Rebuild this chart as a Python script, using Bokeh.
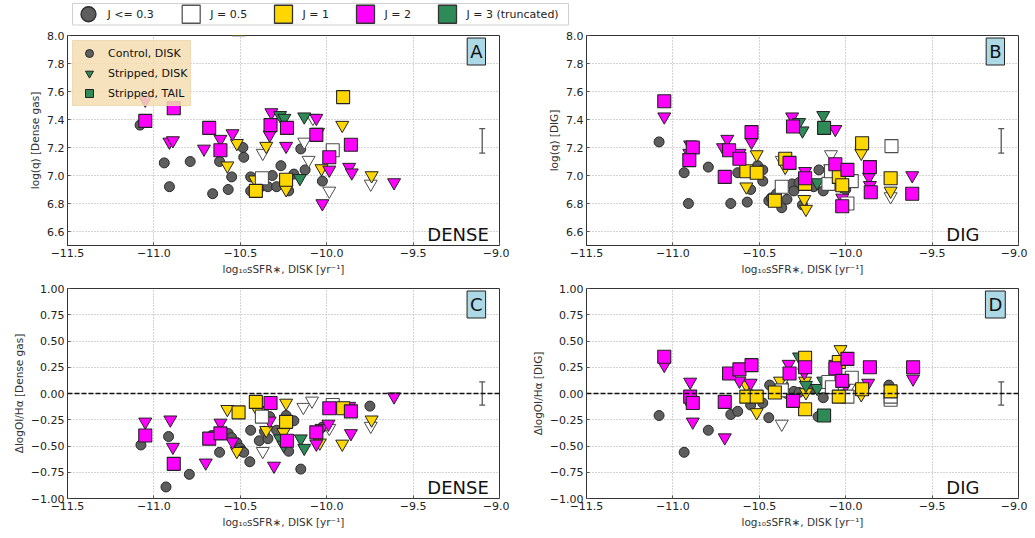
from bokeh.plotting import figure
from bokeh.models import (Range1d, Label, Span, Whisker, TeeHead, ColumnDataSource,
                          Legend, LegendItem)
from bokeh.layouts import column, row
from bokeh.embed import file_html
from bokeh.resources import INLINE
from bokeh.core.properties import value

# ---------------- data ----------------
# J categories: 0.5 white, 1 gold, 2 magenta, 3 green (truncated)

# Panel A : log(q) dense gas
A_ctrl_x = [-11.08, -10.94, -10.91, -10.79, -10.66, -10.62, -10.57, -10.55, -10.485, -10.48, -10.44, -10.44,
            -10.40, -10.39, -10.36, -10.34, -10.315, -10.29, -10.265, -10.22, -10.19, -10.15, -10.125, -10.025]
A_ctrl_y = [7.36, 7.09, 6.92, 7.10, 6.87, 7.10, 6.90, 6.99, 7.20, 7.13, 6.99, 6.89,
            6.97, 6.91, 6.93, 6.92, 7.00, 6.92, 7.07, 6.89, 7.01, 7.19, 7.04, 6.96]
A_tri_x = [-10.37, -10.13, -10.105, -10.08, -9.985, -9.745,
           -10.52, -10.575, -10.35, -10.415, -10.235, -10.05, -10.03, -9.91, -9.74,
           -11.05, -10.91, -10.89, -10.71, -10.615, -10.545, -10.32, -10.33, -10.235, -10.06, -9.985, -10.025,
           -9.87, -9.855, -9.61,
           -10.27, -10.245, -10.13, -10.155]
A_tri_y = [7.16, 7.24, 7.11, 7.41, 6.89, 6.94,
           7.23, 7.07, 7.21, 6.97, 6.90, 7.31, 7.05, 7.36, 7.00,
           7.54, 7.24, 7.25, 7.19, 7.26, 7.30, 7.45, 7.29, 7.21, 7.41, 7.04, 6.80, 7.06, 7.02, 6.95,
           7.43, 7.41, 7.42, 6.98]
A_tri_J = [0.5, 0.5, 0.5, 0.5, 0.5, 0.5,
           1, 1, 1, 1, 1, 1, 1, 1, 1,
           2, 2, 2, 2, 2, 2, 2, 2, 2, 2, 2, 2, 2, 2, 2,
           3, 3, 3, 3]
A_sq_x = [-10.375, -9.965,
          -10.41, -10.235, -9.905, -10.51,
          -11.05, -10.885, -10.68, -10.615, -10.325, -10.23, -10.06, -9.985, -9.86]
A_sq_y = [6.98, 7.18,
          6.89, 6.97, 7.56, 8.045,
          7.39, 7.48, 7.34, 7.18, 7.36, 7.34, 7.29, 7.13, 7.22]
A_sq_J = [0.5, 0.5, 1, 1, 1, 1, 2, 2, 2, 2, 2, 2, 2, 2, 2]

# Panel B : log(q) DIG
B_ctrl_x = [-11.08, -10.935, -10.91, -10.795, -10.665, -10.625, -10.57, -10.55, -10.51, -10.48, -10.48, -10.445,
            -10.43, -10.40, -10.37, -10.34, -10.31, -10.30, -10.27, -10.25, -10.185, -10.155, -10.13, -10.02, -10.00]
B_ctrl_y = [7.24, 7.02, 6.80, 7.06, 6.80, 7.02, 6.81, 6.90, 7.07, 7.04, 6.96, 6.82,
            6.84, 6.87, 6.77, 6.83, 6.94, 6.89, 6.95, 6.79, 6.92, 7.04, 6.89, 6.92, 6.90]
B_tri_x = [-10.37, -10.09, -10.085, -9.74,
           -10.515, -10.575, -10.35, -10.24, -10.23, -10.03, -9.91, -9.74,
           -11.05, -10.90, -10.905, -10.71, -10.685, -10.615, -10.545, -10.31, -10.33, -10.235, -10.06, -10.02,
           -9.865, -9.86, -9.615,
           -10.27, -10.25, -10.13, -10.165]
B_tri_y = [7.11, 7.05, 7.15, 6.85,
           7.15, 6.92, 7.06, 6.83, 6.76, 6.93, 7.16, 6.89,
           7.42, 7.22, 7.16, 7.20, 7.26, 7.16, 7.24, 7.42, 7.10, 7.03, 7.33, 6.84, 6.99, 6.93, 7.00,
           7.38, 7.32, 7.43, 6.95]
B_tri_J = [0.5, 0.5, 0.5, 0.5,
           1, 1, 1, 1, 1, 1, 1, 1,
           2, 2, 2, 2, 2, 2, 2, 2, 2, 2, 2, 2, 2, 2, 2,
           3, 3, 3, 3]
B_sq_x = [-10.37, -10.10, -10.085, -9.965, -9.99, -9.735,
          -10.575, -10.515, -10.41, -10.35, -10.235, -10.04, -10.02, -9.905, -9.74,
          -11.05, -10.885, -10.905, -10.70, -10.675, -10.615, -10.545, -10.305, -10.325, -10.235, -10.06, -9.99,
          -10.02, -9.86, -9.855, -9.615,
          -10.125]
B_sq_y = [6.92, 6.94, 7.03, 6.96, 6.80, 7.21,
          7.03, 7.02, 6.82, 7.12, 6.94, 6.99, 6.93, 7.23, 6.98,
          7.53, 7.20, 7.11, 6.99, 7.18, 7.12, 7.31, 7.35, 7.09, 6.98, 7.08, 7.04, 6.78, 7.06, 6.88, 6.87,
          7.34]
B_sq_J = [0.5, 0.5, 0.5, 0.5, 0.5, 0.5,
          1, 1, 1, 1, 1, 1, 1, 1, 1,
          2, 2, 2, 2, 2, 2, 2, 2, 2, 2, 2, 2, 2, 2, 2, 2,
          3]

# Panel C : delta log OI/Halpha dense gas
C_ctrl_x = [-11.075, -10.915, -10.93, -10.795, -10.665, -10.62, -10.57, -10.55, -10.52, -10.50, -10.49, -10.48,
            -10.44, -10.445, -10.39, -10.36, -10.34, -10.33, -10.29, -10.235, -10.22, -10.19, -10.15, -10.025, -9.75]
C_ctrl_y = [-0.49, -0.41, -0.89, -0.77, -0.40, -0.56, -0.38, -0.42, -0.47, -0.52, -0.55, -0.56,
            -0.35, -0.65, -0.45, -0.36, -0.43, -0.22, -0.35, -0.21, -0.55, -0.26, -0.72, -0.32, -0.12]
C_tri_x = [-10.37, -10.135, -10.085, -9.985, -9.745,
           -10.575, -10.52, -10.35, -10.40, -10.235, -10.25, -10.04, -9.91, -9.74,
           -11.05, -10.905, -10.89, -10.70, -10.615, -10.545, -10.33, -10.305, -10.06, -10.03, -9.99, -9.87,
           -9.86, -9.61,
           -10.27, -10.25, -10.15, -10.13]
C_tri_y = [-0.55, -0.13, -0.07, -0.33, -0.31,
           -0.15, -0.55, -0.35, -0.16, -0.09, -0.37, -0.47, -0.48, -0.25,
           -0.27, -0.25, -0.51, -0.66, -0.28, -0.46, -0.26, -0.69, -0.48, -0.33, -0.29, -0.12, -0.38, -0.03,
           -0.43, -0.49, -0.43, -0.52]
C_tri_J = [0.5, 0.5, 0.5, 0.5, 0.5,
           1, 1, 1, 1, 1, 1, 1, 1, 1,
           2, 2, 2, 2, 2, 2, 2, 2, 2, 2, 2, 2, 2, 2,
           3, 3, 3, 3]
C_sq_x = [-10.375, -9.965,
          -10.51, -10.41, -10.235, -9.905,
          -11.05, -10.885, -10.68, -10.615, -10.325, -10.23, -10.06, -9.985, -9.86]
C_sq_y = [-0.22, -0.11,
          -0.18, -0.08, -0.27, -0.14,
          -0.40, -0.67, -0.43, -0.38, -0.09, -0.45, -0.37, -0.14, -0.17]
C_sq_J = [0.5, 0.5, 1, 1, 1, 1, 2, 2, 2, 2, 2, 2, 2, 2, 2]

# Panel D : delta log OI/Halpha DIG
D_ctrl_x = [-11.08, -10.935, -10.90, -10.795, -10.665, -10.625, -10.55, -10.48, -10.445, -10.44, -10.39, -10.36,
            -10.34, -10.30, -10.27, -10.19, -10.16, -10.13, -9.75]
D_ctrl_y = [-0.21, -0.56, -0.09, -0.35, -0.20, -0.17, -0.11, -0.09, -0.23, 0.08, 0.05, 0.08,
            0.00, 0.02, 0.01, 0.04, -0.22, -0.04, 0.08]
D_tri_x = [-10.37, -10.37, -10.09, -9.98,
           -10.575, -10.515, -10.38, -10.235, -10.23, -10.03, -9.91,
           -11.05, -10.90, -10.885, -10.70, -10.615, -10.55, -10.33, -10.24, -10.06, -10.00, -9.87, -9.61,
           -10.27, -10.23, -10.165, -10.13]
D_tri_y = [-0.29, 0.10, 0.13, 0.06,
           0.08, -0.18, 0.12, 0.12, 0.01, 0.42, -0.01,
           0.27, 0.11, -0.27, -0.42, 0.12, 0.10, 0.28, 0.20, 0.28, 0.08, 0.10, 0.14,
           0.35, 0.08, 0.05, 0.12]
D_tri_J = [0.5, 0.5, 0.5, 0.5,
           1, 1, 1, 1, 1, 1, 1,
           2, 2, 2, 2, 2, 2, 2, 2, 2, 2, 2, 2,
           3, 3, 3, 3]
D_sq_x = [-10.37, -10.10, -10.08, -9.99, -9.965, -9.74, -9.74,
          -10.575, -10.515, -10.41, -10.235, -10.235, -10.04, -10.04, -9.905, -9.74,
          -11.05, -10.90, -10.885, -10.70, -10.675, -10.615, -10.545, -10.325, -10.305, -10.235, -10.06, -9.99,
          -10.02, -9.86, -9.61,
          -10.125]
D_sq_y = [0.03, 0.11, 0.06, -0.03, 0.15, -0.06, -0.03,
          -0.03, -0.03, 0.01, 0.34, -0.15, 0.30, -0.03, 0.04, 0.02,
          0.35, -0.03, -0.09, -0.08, 0.19, 0.23, 0.27, 0.19, -0.07, 0.25, 0.24, 0.33, 0.12, 0.25, 0.25,
          -0.21]
D_sq_J = [0.5, 0.5, 0.5, 0.5, 0.5, 0.5, 0.5,
          1, 1, 1, 1, 1, 1, 1, 1, 1,
          2, 2, 2, 2, 2, 2, 2, 2, 2, 2, 2, 2, 2, 2, 2,
          3]

# typical error bars
Q_ERR_LOW, Q_ERR_HIGH = [7.16], [7.335]
OI_ERR_LOW, OI_ERR_HIGH = [-0.11], [0.11]
ERR_X = [-9.10]

X_TICKS = [-11.5, -11.0, -10.5, -10.0, -9.5, -9.0]
Q_TICKS = [6.6, 6.8, 7.0, 7.2, 7.4, 7.6, 7.8, 8.0]
OI_TICKS = [-1.0, -0.75, -0.5, -0.25, 0.0, 0.25, 0.5, 0.75, 1.0]

TOP_LABELS = ["J <= 0.3", "J = 0.5", "J = 1", "J = 2", "J = 3 (truncated)"]
INNER_LABELS = ["Control, DISK", "Stripped, DISK", "Stripped, TAIL"]

# ---------------- styles ----------------
FONT = "DejaVu Sans"
J_FILL = {0.5: "#ffffff", 1: "#ffd700", 2: "#ff00ff", 3: "#2e8b57"}
J_EDGE = {0.5: "#4d4d4d", 1: "#222222", 2: "#222222", 3: "#222222"}
CTRL_FILL = "#5e5e5e"
CTRL_EDGE = "#2a2a2a"
FW, FH = 432, 210
NAN = float("nan")


def fmt(v, nd):
    return (f"{v:.{nd}f}").replace("-", "\u2212")


def make_panel(ctrl_x, ctrl_y, tri_x, tri_y, tri_J, sq_x, sq_y, sq_J, yr, yticks, ynd, ylabel,
               letter, region, err_lo, err_hi, borders, zero_line=False, inner_legend=False):
    left, right, top, bottom = borders
    p = figure(frame_width=FW, frame_height=FH, x_range=Range1d(-11.5, -9.0), y_range=Range1d(*yr),
               output_backend="svg", toolbar_location=None,
               min_border_left=left, min_border_right=right, min_border_top=top, min_border_bottom=bottom)
    p.background_fill_color = "white"
    p.border_fill_color = "white"
    p.outline_line_color = "#333333"
    p.outline_line_width = 1

    p.xaxis.ticker = X_TICKS
    p.xaxis.major_label_overrides = {t: fmt(t, 1) for t in X_TICKS}
    p.yaxis.ticker = yticks
    p.yaxis.major_label_overrides = {t: fmt(t, ynd) for t in yticks}
    p.xaxis.axis_label = "log\u2081\u2080sSFR\u2217, DISK [yr\u207b\u00b9]"
    p.yaxis.axis_label = ylabel
    for ax in (p.xaxis[0], p.yaxis[0]):
        ax.axis_label_text_font = FONT
        ax.axis_label_text_font_size = "10.5px"
        ax.axis_label_text_font_style = "normal"
        ax.axis_label_text_color = "#333333"
        ax.major_label_text_font = FONT
        ax.major_label_text_font_size = "11px"
        ax.major_label_text_color = "#222222"
        ax.axis_line_color = "#333333"
        ax.major_tick_in = 3
        ax.major_tick_out = 0
        ax.major_tick_line_color = "#555555"
        ax.minor_tick_line_color = None
        ax.major_label_standoff = 3
        ax.axis_label_standoff = 3
    p.grid.grid_line_color = "#a8a8a8"
    p.grid.grid_line_dash = "1 2"
    p.grid.grid_line_width = 1

    if zero_line:
        p.add_layout(Span(location=0, dimension="width", line_color="#111111",
                          line_dash="5 2", line_width=1.4))

    rc = p.scatter(ctrl_x, ctrl_y, marker="circle", size=10, fill_color=CTRL_FILL,
                   line_color=CTRL_EDGE, line_width=1)
    tsrc = ColumnDataSource(dict(x=tri_x, y=tri_y, fill=[J_FILL[j] for j in tri_J],
                                 edge=[J_EDGE[j] for j in tri_J]))
    p.scatter("x", "y", source=tsrc, marker="inverted_triangle", size=13, fill_color="fill",
              line_color="edge", line_width=1)
    ssrc = ColumnDataSource(dict(x=sq_x, y=sq_y, fill=[J_FILL[j] for j in sq_J],
                                 edge=[J_EDGE[j] for j in sq_J]))
    p.scatter("x", "y", source=ssrc, marker="square", size=13, fill_color="fill",
              line_color="edge", line_width=1.1)

    esrc = ColumnDataSource(dict(base=ERR_X, lower=err_lo, upper=err_hi))
    p.add_layout(Whisker(source=esrc, base="base", lower="lower", upper="upper", dimension="height",
                         line_color="#555555", line_width=1.3,
                         upper_head=TeeHead(size=6, line_color="#555555", line_width=1.3),
                         lower_head=TeeHead(size=6, line_color="#555555", line_width=1.3)))

    y0, y1 = yr
    p.add_layout(Label(x=-9.134, y=y1 - (y1 - y0) * 16 / FH, text=letter, text_font=FONT,
                       text_font_size="18px", text_align="center", text_baseline="middle",
                       text_color="#111111", background_fill_color="#add8e6",
                       border_line_color="#222222", border_line_width=1, padding=3))
    p.add_layout(Label(x=-9.4175, y=y0 + (y1 - y0) * 11 / FH, text=region, text_font=FONT,
                       text_font_size="18px", text_align="left", text_baseline="alphabetic",
                       text_color="#111111"))

    if inner_legend:
        # legend-only renderers (a single NaN point draws nothing in the plot area)
        g_tri = p.scatter([NAN], [NAN], marker="inverted_triangle", size=13, fill_color=J_FILL[3],
                          line_color="#222222", line_width=1)
        g_sq = p.scatter([NAN], [NAN], marker="square", size=13, fill_color=J_FILL[3],
                         line_color="#222222", line_width=1)
        leg = Legend(items=[LegendItem(label=INNER_LABELS[0], renderers=[rc], index=0),
                            LegendItem(label=INNER_LABELS[1], renderers=[g_tri], index=0),
                            LegendItem(label=INNER_LABELS[2], renderers=[g_sq], index=0)],
                     location="top_left", margin=5, padding=2, spacing=0,
                     glyph_width=28, glyph_height=20, label_height=16, label_standoff=5,
                     label_text_font=FONT, label_text_font_size="11px", label_text_color="#111111",
                     background_fill_color="#f5deb3", background_fill_alpha=0.85,
                     border_line_color="#e6d2aa", border_line_width=1)
        p.add_layout(leg)
    return p


pA = make_panel(A_ctrl_x, A_ctrl_y, A_tri_x, A_tri_y, A_tri_J, A_sq_x, A_sq_y, A_sq_J,
                (6.5, 8.0), Q_TICKS, 1, "log(q) [Dense gas]", "A", "DENSE",
                Q_ERR_LOW, Q_ERR_HIGH, (67, 10, 8, 37), inner_legend=True)
pB = make_panel(B_ctrl_x, B_ctrl_y, B_tri_x, B_tri_y, B_tri_J, B_sq_x, B_sq_y, B_sq_J,
                (6.5, 8.0), Q_TICKS, 1, "log(q) [DIG]", "B", "DIG",
                Q_ERR_LOW, Q_ERR_HIGH, (77, 9, 8, 37))
pC = make_panel(C_ctrl_x, C_ctrl_y, C_tri_x, C_tri_y, C_tri_J, C_sq_x, C_sq_y, C_sq_J,
                (-1.0, 1.0), OI_TICKS, 2, "\u0394logOI/H\u03b1 [Dense gas]", "C", "DENSE",
                OI_ERR_LOW, OI_ERR_HIGH, (67, 10, 6, 35), zero_line=True)
pD = make_panel(D_ctrl_x, D_ctrl_y, D_tri_x, D_tri_y, D_tri_J, D_sq_x, D_sq_y, D_sq_J,
                (-1.0, 1.0), OI_TICKS, 2, "\u0394logOI/H\u03b1 [DIG]", "D", "DIG",
                OI_ERR_LOW, OI_ERR_HIGH, (77, 9, 6, 35), zero_line=True)

# ---------------- figure-level legend strip ----------------
STRIP_W, STRIP_H = 1027, 27
strip = figure(frame_width=STRIP_W, frame_height=STRIP_H, x_range=Range1d(0, STRIP_W),
               y_range=Range1d(0, STRIP_H), output_backend="svg", toolbar_location=None,
               x_axis_location=None, y_axis_location=None, min_border=0)
strip.grid.visible = False
strip.outline_line_color = None
strip.background_fill_color = "white"
strip.border_fill_color = "white"
box_left, box_right, box_bottom, box_top = 72, 568, 2.5, 24
strip.quad(left=[box_left], right=[box_right], bottom=[box_bottom], top=[box_top],
           fill_color="white", line_color="#d0d0d0", line_width=1)
item_x = [88, 190.7, 283, 365, 447]          # layout positions of legend entries
mid = (box_bottom + box_top) / 2
lsrc = ColumnDataSource(dict(
    x=item_x, y=[mid] * 5,
    marker=["circle", "square", "square", "square", "square"],
    size=[15, 18, 18, 18, 18],
    fill=[CTRL_FILL, J_FILL[0.5], J_FILL[1], J_FILL[2], J_FILL[3]],
    edge=[CTRL_EDGE, "#555555", "#333333", "#333333", "#333333"],
    lx=[v + 19 for v in item_x], label=TOP_LABELS))
strip.scatter("x", "y", source=lsrc, marker="marker", size="size", fill_color="fill",
              line_color="edge", line_width=1.3)
strip.text("lx", "y", text="label", source=lsrc, text_font=value(FONT), text_font_size="11px",
           text_baseline="middle", text_align="left", text_color="#222222")

layout = column(strip, row(pA, pB), row(pC, pD))
open("out.html", "w").write(file_html(layout, INLINE))
